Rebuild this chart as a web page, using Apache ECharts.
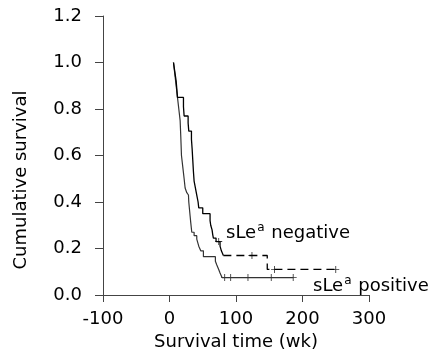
<!DOCTYPE html>
<html>
<head>
<meta charset="utf-8">
<script src="https://cdn.jsdelivr.net/npm/echarts@6/dist/echarts.min.js"></script>
<style>html,body{margin:0;padding:0;background:#fff}#c{width:433px;height:358px}</style>
</head>
<body>
<div id="c"></div>
<script>
// Kaplan-Meier step data: [time (wk), cumulative survival]
const negTimes  = [6, 8, 10, 12, 21, 22, 28, 29, 33, 34, 35, 36, 37, 39, 41, 43, 44, 50, 61, 62, 64, 65, 66, 70, 76, 78, 81];
const negSurv   = [1.00, 0.96, 0.92, 0.85, 0.81, 0.77, 0.74, 0.705, 0.67, 0.63, 0.58, 0.53, 0.49, 0.46, 0.43, 0.40, 0.375, 0.35, 0.32, 0.30, 0.28, 0.26, 0.245, 0.23, 0.21, 0.19, 0.17];
const negTailTimes = [81, 147, 250];
const negTailSurv  = [0.17, 0.11, 0.11];
const negCensorTimes = [74, 124, 158, 250];
const negCensorSurv  = [0.23, 0.17, 0.11, 0.11];

const posTimes = [6, 8, 10, 12, 14, 16, 17, 18, 20, 22, 23.5, 26, 28.5, 29, 30, 31, 32, 33.5, 37, 41, 44, 47, 51, 69, 71, 74, 76, 79, 186];
const posSurv  = [1.00, 0.95, 0.90, 0.85, 0.80, 0.75, 0.68, 0.60, 0.55, 0.50, 0.46, 0.44, 0.43, 0.40, 0.37, 0.34, 0.31, 0.27, 0.255, 0.24, 0.21, 0.19, 0.165, 0.145, 0.13, 0.11, 0.095, 0.075, 0.075];
const posCensorTimes = [83, 92, 118, 153, 186];
const posCensorSurv  = [0.075, 0.075, 0.075, 0.075, 0.075];

const xTicks = [-100, 0, 100, 200, 300];
const yTicks = [0, 0.2, 0.4, 0.6, 0.8, 1.0, 1.2];

const zip = (a, b) => a.map((v, i) => [v, b[i]]);
const FONT = 'DejaVu Sans';
const plus = 'path://M-0.12,-1 H0.12 V-0.12 H1 V0.12 H0.12 V1 H-0.12 V0.12 H-1 V-0.12 H-0.12 Z';

const chart = echarts.init(document.getElementById('c'), null, {renderer: 'canvas'});
chart.setOption({
  animation: false,
  backgroundColor: '#fff',
  grid: {left: 103, right: 64, top: 16, bottom: 63},
  xAxis: {
    type: 'value', min: xTicks[0], max: xTicks[xTicks.length - 1], interval: 100,
    axisLine: {onZero: false, lineStyle: {color: '#444', width: 1}},
    axisTick: {show: true, length: 7, lineStyle: {color: '#444'}},
    splitLine: {show: false},
    axisLabel: {color: '#000', fontFamily: FONT, fontSize: 18, margin: 15},
    name: 'Survival time (wk)', nameLocation: 'middle', nameGap: 36,
    nameTextStyle: {color: '#000', fontFamily: FONT, fontSize: 18}
  },
  yAxis: {
    type: 'value', min: yTicks[0], max: yTicks[yTicks.length - 1], interval: 0.2,
    axisLine: {show: true, onZero: false, lineStyle: {color: '#444', width: 1}},
    axisTick: {show: true, length: 8, lineStyle: {color: '#444'}},
    splitLine: {show: false},
    axisLabel: {color: '#000', fontFamily: FONT, fontSize: 18, margin: 21,
      formatter: v => v.toFixed(1)}
  },
  graphic: [
    {type: 'text', x: 21, y: 180, rotation: Math.PI / 2,
     style: {text: 'Cumulative survival', font: '18px "DejaVu Sans"', fill: '#000',
       align: 'center', verticalAlign: 'middle'}},
    {type: 'text', x: 226, y: 233, style: {
      text: '{m|sLe}{s|a}{m| negative}', align: 'left', verticalAlign: 'middle',
      rich: {m: {fontFamily: FONT, fontSize: 18, fill: '#000', lineHeight: 22},
             s: {fontFamily: FONT, fontSize: 12, fill: '#000', verticalAlign: 'top', lineHeight: 22, padding: [0,1,0,1]}}}},
    {type: 'text', x: 313, y: 286, style: {
      text: '{m|sLe}{s|a}{m| positive}', align: 'left', verticalAlign: 'middle',
      rich: {m: {fontFamily: FONT, fontSize: 18, fill: '#000', lineHeight: 22},
             s: {fontFamily: FONT, fontSize: 12, fill: '#000', verticalAlign: 'top', lineHeight: 22, padding: [0,1,0,1]}}}}
  ],
  series: [
    {type: 'line', step: 'end', data: zip(posTimes, posSurv), showSymbol: false,
     lineStyle: {color: '#333', width: 1.2}},
    {type: 'line', step: 'end', data: zip(negTimes, negSurv), showSymbol: false,
     lineStyle: {color: '#000', width: 1.3}},
    {type: 'line', step: 'end', data: zip(negTailTimes, negTailSurv), showSymbol: false,
     lineStyle: {color: '#000', width: 1.3, type: [8, 5]}},
    {type: 'scatter', data: zip(posCensorTimes, posCensorSurv), symbol: plus, symbolSize: 7,
     itemStyle: {color: '#000'}},
    {type: 'scatter', data: zip(negCensorTimes, negCensorSurv), symbol: plus, symbolSize: 7,
     itemStyle: {color: '#000'}}
  ]
});
</script>
</body>
</html>
